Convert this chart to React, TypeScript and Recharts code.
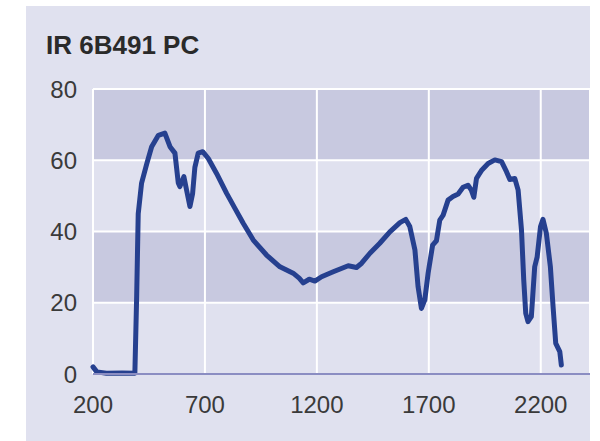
import { LineChart, Line, XAxis, YAxis, CartesianGrid } from 'recharts';

// wavelength (nm) and transmission (%)
const wavelength = [
  200, 217, 260, 330, 387, 395, 402, 417, 440, 462, 492, 521, 544, 566, 581, 588,
  606, 621, 633, 645, 655, 670, 690, 715, 752, 797, 834, 871, 916, 975, 1035,
  1094, 1121, 1139, 1166, 1191, 1221, 1273, 1340, 1377, 1400, 1437, 1481, 1526,
  1571, 1597, 1615, 1638, 1652, 1667, 1682, 1697, 1717, 1734, 1749, 1764, 1786,
  1808, 1831, 1853, 1875, 1890, 1901, 1913, 1935, 1965, 1995, 2025, 2047, 2062,
  2084, 2099, 2114, 2124, 2133, 2143, 2158, 2173, 2184, 2199, 2210, 2225, 2243,
  2255, 2267, 2285, 2292,
];
const transmission = [
  2, 0.6, 0.2, 0.3, 0.2, 21.7, 45, 53.6, 59, 63.8, 67, 67.6, 63.8, 62, 53.6, 52.6,
  55.4, 50.7, 47, 50.7, 58, 62, 62.4, 60.5, 56.3, 50.7, 46.5, 42.3, 37.6, 33.4, 30.1,
  28.3, 26.9, 25.6, 26.6, 26.1, 27.3, 28.7, 30.4, 29.9, 31.1, 33.9, 36.7, 39.9,
  42.5, 43.4, 41.4, 34.8, 24.5, 18.4, 20.8, 28.3, 36.2, 37.4, 43.2, 44.6, 48.8,
  49.8, 50.5, 52.4, 53, 51.6, 49.6, 54.9, 57.1, 59.1, 60.1, 59.6, 56.8, 54.6,
  54.9, 51.6, 40.4, 26.4, 17, 14.7, 16.1, 30.1, 32.9, 41.4, 43.4, 39.5, 30.1,
  18.9, 8.6, 6.3, 2.5,
];
const xTicks = [200, 700, 1200, 1700, 2200];
const yTicks = [0, 20, 40, 60, 80];

const data = wavelength.map((x, i) => ({ x, y: transmission[i] }));

const FONT = '"Liberation Sans", Arial, sans-serif';

export default function App() {
  return (
    <div style={{ position: 'fixed', left: 0, top: 0, width: 600, height: 441, background: '#fff' }}>
      <div
        style={{
          position: 'absolute',
          left: 26,
          top: 6,
          width: 564,
          height: 435,
          background: '#e0e1ef',
        }}
      />
      <div
        style={{
          position: 'absolute',
          left: 46,
          top: 30,
          fontFamily: FONT,
          fontWeight: 'bold',
          fontSize: 26,
          color: '#2a2a2a',
          lineHeight: '30px',
        }}
      >
        IR 6B491 PC
      </div>
      <div style={{ position: 'absolute', left: 0, top: 0 }}>
        <LineChart
          width={600}
          height={441}
          data={data}
          margin={{ top: 89, right: 10, bottom: 37, left: 33 }}
        >
          <CartesianGrid
            horizontal={{ stroke: 'none' } as any}
            vertical
            stroke="#ffffff"
            strokeWidth={2}
            horizontalFill={['#c8c9e0', '#e0e1ef']}
            fillOpacity={1}
          />
          <XAxis
            dataKey="x"
            type="number"
            domain={[200, 2420]}
            ticks={xTicks}
            tickLine={false}
            tickSize={0}
            tickMargin={22}
            height={30}
            axisLine={{ stroke: '#8b8dc2', strokeWidth: 2 }}
            tick={{ fill: '#3a3a3a', fontSize: 24, fontFamily: FONT }}
          />
          <YAxis
            type="number"
            domain={[0, 80]}
            ticks={yTicks}
            width={60}
            tickLine={false}
            tickSize={0}
            tickMargin={16}
            axisLine={false}
            tick={{ fill: '#3a3a3a', fontSize: 24, fontFamily: FONT }}
          />
          <Line
            dataKey="y"
            type="linear"
            stroke="#26408f"
            strokeWidth={5}
            strokeLinejoin="round"
            strokeLinecap="round"
            dot={false}
            activeDot={false}
            isAnimationActive={false}
          />
        </LineChart>
      </div>
    </div>
  );
}
